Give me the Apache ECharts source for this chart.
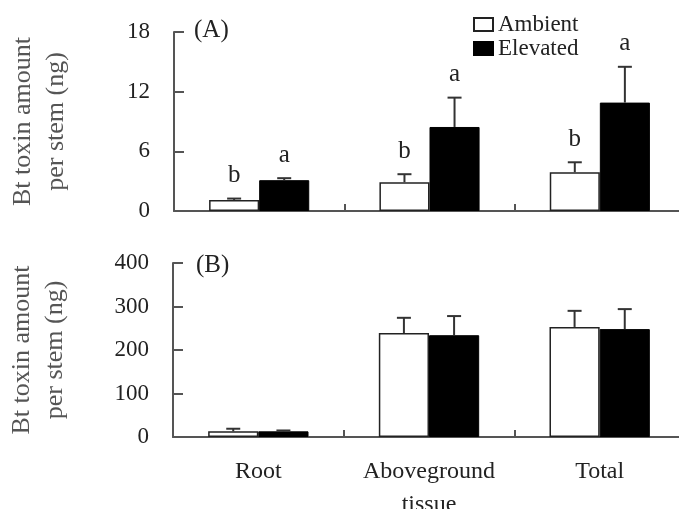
<!DOCTYPE html>
<html>
<head>
<meta charset="utf-8">
<script src="https://cdn.jsdelivr.net/npm/echarts@6/dist/echarts.min.js"></script>
<style>html,body{margin:0;padding:0;background:#fff}#c{width:679px;height:509px}</style>
</head>
<body>
<div id="c"></div>
<script>
var categories = ['Root', 'Aboveground\ntissue', 'Total'];
// Panel A (ng per stem)
var ambientA = [1.1, 2.9, 3.9];
var ambientAErr = [0.15, 0.8, 1.0];
var elevatedA = [3.1, 8.45, 10.9];
var elevatedAErr = [0.2, 2.95, 3.6];
var lettersAmbA = ['b', 'b', 'b'];
var lettersEleA = ['a', 'a', 'a'];
// Panel B (ng per stem)
var ambientB = [13, 239, 253];
var ambientBErr = [6, 35, 37];
var elevatedB = [13, 234, 248];
var elevatedBErr = [2, 44, 46];
var ticksA = {min: 0, max: 18, interval: 6};
var ticksB = {min: 0, max: 400, interval: 100};

var FONT = 'Liberation Serif';
var BW = 0.294; // bar width fraction of band

function errData(vals, errs, letters) {
  return vals.map(function (v, i) { return [i, v, errs[i], letters ? letters[i] : '']; });
}
function errSeries(xi, yi, vals, errs, letters, side) {
  return {
    type: 'custom', xAxisIndex: xi, yAxisIndex: yi, z: 5,
    data: errData(vals, errs, letters),
    encode: {x: 0, y: 1},
    renderItem: function (params, api) {
      var i = api.value(0), v = api.value(1), e = api.value(2);
      var band = api.size([1, 0])[0];
      var base = api.coord([i, v]);
      var top = api.coord([i, v + e]);
      var x = base[0] + side * band * BW / 2;
      var children = [
        {type: 'line', shape: {x1: x, y1: base[1], x2: x, y2: top[1]}, style: {stroke: '#333', lineWidth: 2}},
        {type: 'line', shape: {x1: x - 7, y1: top[1], x2: x + 7, y2: top[1]}, style: {stroke: '#333', lineWidth: 2}}
      ];
      var letter = letters ? letters[i] : '';
      if (letter) {
        children.push({type: 'text', style: {text: letter, x: x, y: top[1] - 23, align: 'center', verticalAlign: 'middle', font: '25px "' + FONT + '"', fill: '#222'}});
      }
      return {type: 'group', children: children};
    }
  };
}

var axisLine = {show: true, lineStyle: {color: '#555', width: 2}};
var chart = echarts.init(document.getElementById('c'), null, {renderer: 'canvas'});
var yName = 'Bt toxin amount\nper stem (ng)';
function yAxis(gi, t) {
  return {
    type: 'value', gridIndex: gi, min: t.min, max: t.max, interval: t.interval,
    axisLine: axisLine, splitLine: {show: false},
    axisTick: {show: true, inside: true, length: 10, lineStyle: {color: '#555', width: 2}},
    axisLabel: {fontFamily: FONT, fontSize: 23, color: '#222', margin: 24},
    name: yName, nameLocation: 'middle', nameGap: 101, nameRotate: 90,
    nameTextStyle: {fontFamily: FONT, fontSize: 26, color: '#555', lineHeight: 33}
  };
}
function xAxis(gi, showLabel) {
  return {
    type: 'category', gridIndex: gi, data: categories,
    axisLine: axisLine,
    axisTick: {show: true, inside: true, length: 7, lineStyle: {color: '#555', width: 2}},
    axisLabel: {show: showLabel, fontFamily: FONT, fontSize: 24, color: '#222', margin: 18, lineHeight: 33, interval: 0}
  };
}
var ambStyle = {color: '#fff', borderColor: '#222', borderWidth: 1.5};
var eleStyle = {color: '#000', borderColor: '#000', borderWidth: 1};

chart.setOption({
  animation: false,
  grid: [
    {left: 174, top: 32, height: 179, right: -6, outerBoundsMode: 'none', containLabel: false},
    {left: 173, top: 263, height: 174, right: -6, outerBoundsMode: 'none', containLabel: false}
  ],
  xAxis: [xAxis(0, false), xAxis(1, true)],
  yAxis: [yAxis(0, ticksA), yAxis(1, ticksB)],
  legend: {
    data: ['Ambient', 'Elevated'], orient: 'vertical', left: 473, top: 13, padding: 0,
    itemWidth: 19, itemHeight: 13, itemGap: 1, icon: 'rect',
    textStyle: {fontFamily: FONT, fontSize: 23, color: '#222'}
  },
  graphic: [
    {type: 'text', left: 194, top: 18, style: {text: '(A)', font: '25px "' + FONT + '"', fill: '#222'}},
    {type: 'text', left: 196, top: 253, style: {text: '(B)', font: '25px "' + FONT + '"', fill: '#222'}}
  ],
  series: [
    {name: 'Ambient', type: 'bar', xAxisIndex: 0, yAxisIndex: 0, data: ambientA, barWidth: (BW * 100) + '%', barGap: '0%', itemStyle: ambStyle},
    {name: 'Elevated', type: 'bar', xAxisIndex: 0, yAxisIndex: 0, data: elevatedA, barWidth: (BW * 100) + '%', barGap: '0%', itemStyle: eleStyle},
    {name: 'Ambient', type: 'bar', xAxisIndex: 1, yAxisIndex: 1, data: ambientB, barWidth: (BW * 100) + '%', barGap: '0%', itemStyle: ambStyle},
    {name: 'Elevated', type: 'bar', xAxisIndex: 1, yAxisIndex: 1, data: elevatedB, barWidth: (BW * 100) + '%', barGap: '0%', itemStyle: eleStyle},
    errSeries(0, 0, ambientA, ambientAErr, lettersAmbA, -1),
    errSeries(0, 0, elevatedA, elevatedAErr, lettersEleA, 1),
    errSeries(1, 1, ambientB, ambientBErr, null, -1),
    errSeries(1, 1, elevatedB, elevatedBErr, null, 1)
  ]
});
</script>
</body>
</html>
